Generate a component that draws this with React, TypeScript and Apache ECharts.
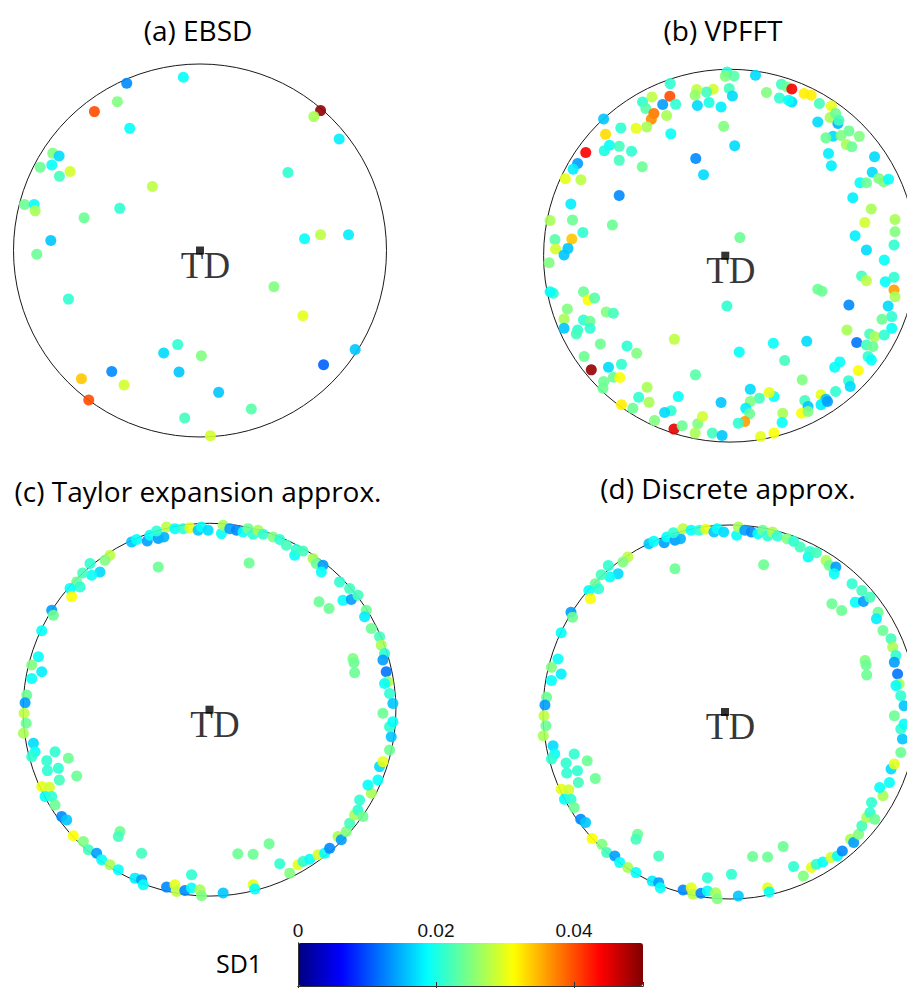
import React, { useEffect, useRef } from "react";
import * as echarts from "echarts";

// Pole-figure coordinates in projection units (circle radius = UNIT_RADIUS), value = SD1
const UNIT_RADIUS = 560;
const SD_MIN = 0;
const SD_MAX = 0.05;
const COLORBAR_TICKS = [0, 0.02, 0.04];
const COLORBAR_LABEL = "SD1";
const PANEL_TITLES = ["(a) EBSD", "(b) VPFFT", "(c) Taylor expansion approx.", "(d) Discrete approx."];
const CENTER_LABEL = "TD";

const EBSD_POINTS = [
  [-220, 502, 0.013], [-50, 520, 0.019], [-248, 447, 0.025], [-317, 417, 0.040],
  [-211, 367, 0.019], [362, 420, 0.049], [342, 402, 0.027], [418, 335, 0.018],
  [-442, 292, 0.025], [-423, 284, 0.017], [-480, 250, 0.024], [-445, 257, 0.019],
  [-390, 237, 0.029], [-422, 223, 0.022], [-143, 192, 0.028], [264, 234, 0.021],
  [-527, 138, 0.024], [-498, 138, 0.019], [-495, 119, 0.027], [-241, 127, 0.021],
  [-348, 98, 0.024], [-448, 30, 0.016], [-490, -11, 0.024], [314, 35, 0.019],
  [362, 47, 0.028], [446, 47, 0.018], [-395, -146, 0.021], [222, -109, 0.025],
  [309, -196, 0.030], [466, -297, 0.016], [371, -343, 0.011], [-67, -282, 0.021],
  [-109, -308, 0.017], [4, -316, 0.025], [-63, -365, 0.016], [-265, -363, 0.013],
  [-356, -385, 0.034], [-228, -404, 0.029], [-334, -449, 0.040], [56, -426, 0.016],
  [154, -476, 0.023], [-46, -503, 0.022], [31, -556, 0.029],
];

const VPFFT_POINTS = [
  [5, 552, 0.021], [0, 539, 0.025], [27, 540, 0.023], [93, 542, 0.017],
  [-170, 517, 0.021], [12, 502, 0.022], [22, 480, 0.017], [-37, 500, 0.029],
  [-58, 492, 0.022], [-88, 499, 0.028], [-93, 482, 0.026], [-226, 477, 0.028],
  [-171, 479, 0.040], [-255, 462, 0.021], [-193, 454, 0.014], [-153, 455, 0.021],
  [-245, 442, 0.023], [-220, 427, 0.038], [-228, 410, 0.037], [-181, 421, 0.027],
  [-86, 451, 0.017], [-50, 460, 0.020], [-13, 447, 0.018], [-242, 387, 0.027],
  [-275, 383, 0.030], [-322, 384, 0.021], [-375, 411, 0.016], [-369, 365, 0.033],
  [-357, 332, 0.019], [-373, 315, 0.020], [-327, 329, 0.022], [-289, 314, 0.021],
  [-327, 287, 0.022], [-256, 267, 0.024], [-430, 310, 0.044], [-455, 277, 0.014],
  [-469, 260, 0.018], [-493, 231, 0.030], [-445, 228, 0.028], [-168, 366, 0.019],
  [-5, 389, 0.025], [29, 330, 0.017], [-91, 292, 0.013], [-67, 243, 0.017],
  [-327, 181, 0.013], [-476, 155, 0.018], [-540, 106, 0.027], [-471, 107, 0.024],
  [-439, 70, 0.021], [-348, 92, 0.024], [-525, 49, 0.023], [-473, 50, 0.034],
  [-523, 20, 0.029], [-485, 22, 0.016], [45, 55, 0.024], [127, 490, 0.025],
  [173, 515, 0.022], [190, 507, 0.024], [205, 501, 0.044], [167, 474, 0.021],
  [205, 462, 0.017], [195, 467, 0.019], [243, 487, 0.032], [265, 482, 0.032],
  [290, 457, 0.022], [327, 450, 0.030], [285, 402, 0.017], [323, 415, 0.027],
  [340, 427, 0.024], [347, 397, 0.015], [350, 407, 0.022], [332, 359, 0.017],
  [310, 354, 0.024], [357, 361, 0.025], [381, 375, 0.024], [413, 359, 0.025],
  [373, 334, 0.027], [390, 327, 0.024], [318, 307, 0.018], [327, 270, 0.018],
  [460, 297, 0.017], [453, 251, 0.017], [415, 219, 0.019], [435, 219, 0.024],
  [473, 232, 0.025], [488, 222, 0.025], [503, 230, 0.019], [393, 174, 0.018],
  [450, 140, 0.027], [430, 100, 0.029], [523, 109, 0.027], [523, 72, 0.025],
  [400, 60, 0.018], [435, 17, 0.017], [520, 32, 0.021],
  [-497, 2, 0.016], [-543, -21, 0.025], [490, -13, 0.019], [420, -61, 0.022],
  [435, -75, 0.028], [493, -78, 0.019], [520, -65, 0.021], [520, -103, 0.036],
  [523, -123, 0.027], [502, -151, 0.017], [513, -183, 0.021], [483, -191, 0.024],
  [513, -218, 0.019], [381, -148, 0.013], [285, -101, 0.024], [298, -107, 0.024],
  [375, -223, 0.027], [405, -261, 0.012], [445, -235, 0.022], [460, -243, 0.027],
  [490, -238, 0.021], [435, -268, 0.022], [455, -273, 0.024], [440, -303, 0.021],
  [450, -313, 0.019], [353, -319, 0.019], [337, -335, 0.019], [410, -345, 0.031],
  [380, -376, 0.021], [385, -393, 0.017], [340, -408, 0.021], [295, -418, 0.030],
  [310, -431, 0.016], [295, -448, 0.018], [315, -438, 0.014], [245, -435, 0.022],
  [255, -453, 0.016], [235, -473, 0.031], [255, -468, 0.025], [177, -473, 0.027],
  [175, -501, 0.019], [150, -423, 0.019], [135, -411, 0.030], [105, -428, 0.022],
  [77, -401, 0.017], [77, -438, 0.025], [63, -458, 0.018], [75, -475, 0.024],
  [60, -498, 0.036], [40, -503, 0.021], [-13, -441, 0.016], [-40, -533, 0.022],
  [-10, -540, 0.016], [-92, -358, 0.023], [-145, -423, 0.019], [-167, -466, 0.021],
  [-187, -471, 0.017], [-158, -521, 0.045], [-133, -511, 0.024], [-85, -505, 0.025],
  [-70, -483, 0.029], [-93, -533, 0.027], [109, -543, 0.030], [150, -533, 0.031],
  [183, -315, 0.022], [237, -373, 0.025], [251, -257, 0.017], [148, -263, 0.019],
  [43, -289, 0.019], [5, -151, 0.021], [-157, -251, 0.028], [-437, -108, 0.024],
  [-423, -133, 0.031], [-403, -127, 0.023], [-530, -113, 0.021], [-540, -108, 0.019],
  [-487, -160, 0.025], [-497, -190, 0.027], [-497, -218, 0.016], [-437, -193, 0.021],
  [-417, -197, 0.024], [-455, -223, 0.021], [-459, -235, 0.022], [-417, -218, 0.021],
  [-367, -169, 0.025], [-345, -173, 0.022], [-385, -265, 0.024], [-303, -271, 0.021],
  [-273, -293, 0.025], [-435, -303, 0.024], [-413, -343, 0.049], [-360, -335, 0.017],
  [-320, -326, 0.021], [-375, -378, 0.024], [-345, -365, 0.024], [-325, -366, 0.031],
  [-377, -398, 0.024], [-241, -395, 0.027], [-267, -425, 0.021], [-235, -440, 0.027],
  [-320, -448, 0.032], [-285, -458, 0.024], [-218, -495, 0.025],
];

const TAYLOR_POINTS = [
  [-234, 504, 0.016], [-219, 511, 0.019], [-187, 507, 0.014], [-179, 524, 0.019],
  [-154, 514, 0.014], [-137, 519, 0.015], [-159, 537, 0.021], [-129, 549, 0.028],
  [-104, 544, 0.019], [-79, 544, 0.021], [-59, 547, 0.030], [-34, 539, 0.016],
  [-24, 549, 0.019], [-4, 539, 0.017], [36, 529, 0.019], [41, 554, 0.027],
  [61, 544, 0.014], [81, 539, 0.013], [101, 534, 0.019], [116, 544, 0.024],
  [131, 527, 0.021], [146, 539, 0.027], [161, 527, 0.021], [191, 519, 0.025],
  [211, 511, 0.021], [231, 494, 0.022], [256, 464, 0.019], [261, 481, 0.021],
  [281, 477, 0.022], [311, 454, 0.027], [321, 439, 0.024], [341, 434, 0.014],
  [336, 414, 0.019], [-154, 429, 0.024], [119, 441, 0.024], [-299, 464, 0.028],
  [-314, 449, 0.025], [-329, 414, 0.017], [-354, 404, 0.019], [-359, 439, 0.021],
  [-381, 411, 0.022], [-399, 384, 0.024], [-389, 369, 0.021], [-419, 364, 0.019],
  [-414, 339, 0.031], [-474, 299, 0.014], [-469, 284, 0.024], [-504, 237, 0.019],
  [-514, 159, 0.019], [-534, 134, 0.025], [-504, 114, 0.018], [-534, 94, 0.019],
  [-549, 44, 0.024], [-554, 21, 0.014], [391, 384, 0.021], [421, 364, 0.022],
  [401, 329, 0.019], [426, 331, 0.014], [446, 344, 0.022], [471, 299, 0.024],
  [466, 279, 0.018], [486, 244, 0.024], [511, 219, 0.022], [516, 194, 0.027],
  [526, 169, 0.021], [521, 149, 0.014], [531, 114, 0.012], [536, 84, 0.027],
  [526, 79, 0.019], [541, 49, 0.021], [551, 19, 0.016], [329, 324, 0.024],
  [359, 304, 0.024], [431, 154, 0.025], [434, 141, 0.024], [436, 111, 0.024],
  [-557, -11, 0.028], [-551, -41, 0.024], [-559, -71, 0.027], [-529, -101, 0.017],
  [-524, -126, 0.019], [-534, -141, 0.021], [-464, -126, 0.021], [-424, -146, 0.024],
  [-489, -153, 0.021], [-454, -176, 0.021], [-487, -183, 0.021], [-399, -199, 0.024],
  [-451, -211, 0.022], [-504, -231, 0.030], [-481, -233, 0.029], [-494, -261, 0.019],
  [-474, -261, 0.021], [-464, -286, 0.024], [-444, -321, 0.013], [-429, -331, 0.016],
  [-409, -379, 0.031], [-379, -396, 0.025], [-364, -421, 0.022], [-339, -431, 0.014],
  [-324, -451, 0.019], [-299, -466, 0.027], [-274, -481, 0.019], [-269, -366, 0.024],
  [-274, -381, 0.022], [-204, -431, 0.022], [-224, -506, 0.018], [-204, -511, 0.014],
  [-199, -526, 0.019], [-129, -533, 0.013], [-104, -526, 0.030], [-99, -546, 0.028],
  [-74, -543, 0.013], [-54, -536, 0.019], [-54, -496, 0.021], [-29, -541, 0.027],
  [-24, -559, 0.025], [41, -551, 0.016], [131, -526, 0.030], [136, -539, 0.019],
  [85, -433, 0.024], [131, -434, 0.024], [179, -403, 0.024], [211, -463, 0.021],
  [241, -491, 0.025], [266, -466, 0.030], [281, -456, 0.021], [301, -449, 0.019],
  [326, -436, 0.029], [346, -431, 0.019], [361, -416, 0.013], [386, -381, 0.027],
  [396, -391, 0.014], [411, -366, 0.025], [421, -341, 0.022], [436, -316, 0.027],
  [446, -301, 0.021], [461, -321, 0.024], [451, -271, 0.021], [486, -251, 0.027],
  [476, -226, 0.019], [506, -211, 0.019], [511, -171, 0.017], [521, -156, 0.030],
  [541, -121, 0.024], [546, -81, 0.016], [541, -51, 0.021], [521, -11, 0.024],
  [551, -36, 0.019],
];

// Panel (d) shows the same orientations as (c), plus one extra point
const DISCRETE_EXTRA_POINTS = [[20, -486, 0.021]];
const DISCRETE_POINTS = [...TAYLOR_POINTS, ...DISCRETE_EXTRA_POINTS];

const JET = ["#000080", "#0000ff", "#0080ff", "#00ffff", "#80ff80", "#ffff00", "#ff8000", "#ff0000", "#800000"];

// Layout (pixels)
const PANELS = [
  { cx: 200, cy: 250.5, r: 186.5, tx: 198, ty: 30, data: EBSD_POINTS },
  { cx: 730, cy: 255.7, r: 186.4, tx: 723, ty: 30, data: VPFFT_POINTS },
  { cx: 209.5, cy: 709.7, r: 186.4, tx: 198, ty: 491, data: TAYLOR_POINTS },
  { cx: 730, cy: 712, r: 187, tx: 728, ty: 488, data: DISCRETE_POINTS },
];
const CBAR = { left: 298, top: 943, width: 345, height: 43 };
const TITLE_FONT = '"Open Sans", "DejaVu Sans", sans-serif';

export default function App() {
  const ref = useRef<HTMLDivElement>(null);
  useEffect(() => {
    if (!ref.current) return;
    const chart = echarts.init(ref.current, undefined, { renderer: "svg" });

    const grids: any[] = PANELS.map((p) => ({
      left: p.cx - p.r, top: p.cy - p.r, width: 2 * p.r, height: 2 * p.r,
    }));
    grids.push({ left: CBAR.left, top: CBAR.top, width: CBAR.width, height: CBAR.height });
    const cbIdx = PANELS.length;

    const xAxes: any[] = PANELS.map((_, i) => ({
      gridIndex: i, type: "value", min: -UNIT_RADIUS, max: UNIT_RADIUS, show: false,
    }));
    const yAxes: any[] = PANELS.map((_, i) => ({
      gridIndex: i, type: "value", min: -UNIT_RADIUS, max: UNIT_RADIUS, show: false,
    }));
    const cbLine = { show: true, lineStyle: { color: "#333", width: 1 } };
    xAxes.push({
      gridIndex: cbIdx, type: "value", min: SD_MIN, max: SD_MAX, interval: 0.02, position: "top", z: 10,
      axisLine: cbLine, splitLine: { show: false },
      axisTick: { show: true, inside: true, length: 4, lineStyle: { color: "#333" } },
      axisLabel: {
        show: true, margin: 3, showMaxLabel: false, color: "#111", fontSize: 19,
        fontFamily: '"Liberation Sans", Arial, sans-serif',
        formatter: (v: number) => (COLORBAR_TICKS.some((t) => Math.abs(t - v) < 1e-9) ? (v === 0 ? "0" : v.toFixed(2)) : ""),
      },
    });
    xAxes.push({
      gridIndex: cbIdx, type: "value", min: SD_MIN, max: SD_MAX, interval: 0.02, position: "bottom", z: 10,
      axisLine: cbLine, splitLine: { show: false }, axisLabel: { show: false },
      axisTick: { show: true, inside: true, length: 4, lineStyle: { color: "#333" } },
    });
    yAxes.push({
      gridIndex: cbIdx, type: "value", min: 0, max: 1, position: "left", z: 10,
      axisLine: cbLine, axisTick: { show: false }, axisLabel: { show: false }, splitLine: { show: false },
    });
    yAxes.push({
      gridIndex: cbIdx, type: "value", min: 0, max: 1, position: "right", z: 10,
      axisLine: cbLine, axisTick: { show: false }, axisLabel: { show: false }, splitLine: { show: false },
    });

    const series: any[] = PANELS.map((p, i) => ({
      type: "scatter", xAxisIndex: i, yAxisIndex: i, data: p.data, symbolSize: 11,
      clip: false, itemStyle: { opacity: 0.9 }, z: 2, silent: true,
    }));
    PANELS.forEach((_, i) => {
      series.push({
        type: "scatter", xAxisIndex: i, yAxisIndex: i, data: [[0, 0]], symbol: "rect", symbolSize: 8,
        itemStyle: { color: "#000" }, z: 5, silent: true,
        label: {
          show: true, formatter: CENTER_LABEL, position: [9.5, 18.8], align: "center", verticalAlign: "middle",
          fontFamily: '"Liberation Serif", "Times New Roman", serif', fontSize: 37, color: "#000",
          textBorderWidth: 0,
        },
      });
    });
    // empty series for the colorbar grid
    series.push({ type: "scatter", xAxisIndex: cbIdx, yAxisIndex: cbIdx, data: [], silent: true });

    const graphics: any[] = PANELS.map((p) => ({
      type: "circle", shape: { cx: p.cx, cy: p.cy, r: p.r }, silent: true, z: 0,
      style: { fill: "none", stroke: "#1a1a1a", lineWidth: 1 },
    }));
    PANELS.forEach((p, i) => {
      graphics.push({
        type: "text", x: p.tx, y: p.ty, silent: true,
        style: { text: PANEL_TITLES[i], fill: "#000", font: `28px ${TITLE_FONT}`, align: "center", verticalAlign: "middle" },
      });
    });
    graphics.push({
      type: "text", x: 239, y: 963, silent: true,
      style: { text: COLORBAR_LABEL, fill: "#000", font: `25px ${TITLE_FONT}`, align: "center", verticalAlign: "middle" },
    });

    chart.setOption({
      animation: false,
      backgroundColor: "#fff",
      grid: grids,
      xAxis: xAxes,
      yAxis: yAxes,
      visualMap: {
        type: "continuous", min: SD_MIN, max: SD_MAX, dimension: 2, seriesIndex: PANELS.map((_, i) => i),
        inRange: { color: JET }, orient: "horizontal", left: CBAR.left, top: CBAR.top,
        itemWidth: CBAR.height, itemHeight: CBAR.width, calculable: false, padding: 0,
        hoverLink: false, text: null, showLabel: false,
      },
      series,
      graphic: graphics,
    });
    return () => chart.dispose();
  }, []);
  return <div ref={ref} style={{ position: "absolute", left: 0, top: 0, width: 907, height: 988 }} />;
}
